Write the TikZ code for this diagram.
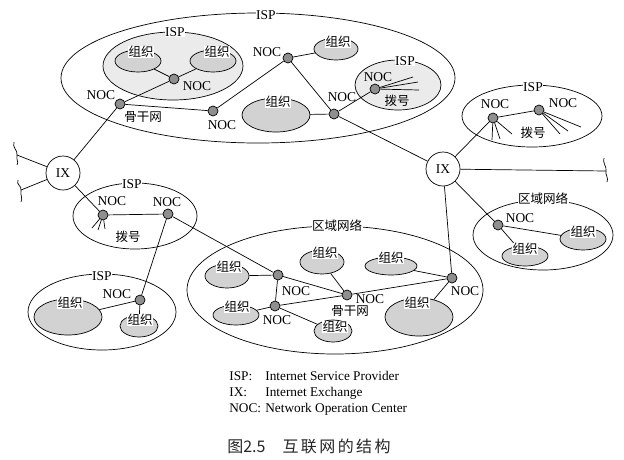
\documentclass[tikz,border=0pt]{standalone}
\usepackage{fontspec}
\setmainfont{Liberation Serif}
\newfontfamily\cjk{Noto Sans CJK SC}
\usetikzlibrary{shapes.geometric}
\definecolor{orgfill}{HTML}{D2D2D2}
\definecolor{ispfill}{HTML}{EBEBEB}
\definecolor{nocfill}{HTML}{8F8F8F}
\begin{document}
\begin{tikzpicture}[x=1pt,y=-1pt, line width=0.7pt,
 region/.style={ellipse, draw, inner sep=0},
 ispin/.style={region, fill=ispfill},
 org/.style={ellipse, draw, fill=orgfill, inner sep=0},
 noc/.style={circle, draw, fill=nocfill, minimum size=10pt, inner sep=0},
 ixnode/.style={circle, draw, fill=white, minimum size=34pt, inner sep=0, font=\fontsize{13.5}{13.5}\selectfont},
 lbl/.style={font=\fontsize{13.5}{13.5}\selectfont, inner sep=0.5pt},
 tagl/.style={lbl, fill=white},
 cn/.style={font=\cjk\fontsize{12.5}{12.5}\selectfont, inner sep=0.5pt},
 cntag/.style={cn, fill=white},
 squiggle/.style={line width=0.7pt}
]
\useasboundingbox (0,0) rectangle (624,459);

% ---- regions ----
\node[region, minimum width=394pt, minimum height=130pt] (bigisp) at (258,78) {};
\node[ispin, minimum width=140pt, minimum height=68pt] (inisp) at (173,66) {};
\node[ispin, minimum width=86pt, minimum height=50pt] (smisp) at (398,85) {};
\node[region, minimum width=140pt, minimum height=62pt] (rtisp) at (532,116) {};
\node[region, minimum width=140pt, minimum height=70pt] (rbreg) at (543,235) {};
\node[region, minimum width=124pt, minimum height=66pt] (lmisp) at (135,216) {};
\node[region, minimum width=148pt, minimum height=76pt] (lbisp) at (102,312) {};
\node[region, minimum width=296pt, minimum height=128pt] (creg) at (335,290) {};

% ---- organisations ----
\node[org, minimum width=46pt, minimum height=22pt] (ea1) at (138,61) {};
\node[org, minimum width=46pt, minimum height=22pt] (ea2) at (213,61) {};
\node[org, minimum width=44pt, minimum height=22pt] (ea3) at (336,49) {};
\node[org, minimum width=68pt, minimum height=34pt] (ea4) at (276,115) {};
\node[org, minimum width=46pt, minimum height=22pt] (eb1) at (583,239) {};
\node[org, minimum width=46pt, minimum height=20pt] (eb2) at (525,256) {};
\node[org, minimum width=68pt, minimum height=36pt] (ec1) at (68,317) {};
\node[org, minimum width=38pt, minimum height=22pt] (ec2) at (139,326) {};
\node[org, minimum width=44pt, minimum height=24pt] (ed1) at (227,276) {};
\node[org, minimum width=44pt, minimum height=24pt] (ed2) at (322,262) {};
\node[org, minimum width=52pt, minimum height=18pt] (ed3) at (391,266) {};
\node[org, minimum width=46pt, minimum height=20pt] (ed4) at (236,315) {};
\node[org, minimum width=38pt, minimum height=22pt] (ed5) at (333,331) {};
\node[org, minimum width=68pt, minimum height=38pt] (ed6) at (419,317) {};

% ---- NOCs ----
\node[noc] (nA) at (174,79) {};
\node[noc] (nB) at (120,104) {};
\node[noc] (nC) at (213,111) {};
\node[noc] (nD) at (288,58) {};
\node[noc] (nE) at (334,114) {};
\node[noc] (nF) at (375,89) {};
\node[noc] (nG) at (493,118) {};
\node[noc] (nH) at (539,110) {};
\node[noc] (nI) at (498,225) {};
\node[noc] (nJ) at (103,215) {};
\node[noc] (nK) at (168,214) {};
\node[noc] (nL) at (140,300) {};
\node[noc] (nM) at (278,275) {};
\node[noc] (nN) at (275,306) {};
\node[noc] (nO) at (347,295) {};
\node[noc] (nP) at (452,278) {};

% ---- IX ----
\node[ixnode] (ixl) at (63,173) {IX};
\node[ixnode] (ixr) at (443,169) {IX};

% ---- free ends ----
\coordinate (b1) at (17,155);
\coordinate (b2) at (21,190);
\coordinate (b3) at (606,171);
\coordinate (f1) at (413,77);
\coordinate (f2) at (418,82);
\coordinate (f3) at (419,90);
\coordinate (g1) at (492,140);
\coordinate (g2) at (500,139);
\coordinate (g3) at (512,134);
\coordinate (h1) at (560,134);
\coordinate (h2) at (568,131);
\coordinate (h3) at (581,127);
\coordinate (j1) at (92,228);
\coordinate (j2) at (98,230);
\coordinate (j3) at (105,229);

% ---- connectors ----
\draw (nB) -- (nA);
\draw (nA) -- (ea1);
\draw (nA) -- (ea2);
\draw (nB) -- (nC);
\draw (nC) -- (nD);
\draw (nD) -- (ea3);
\draw (nD) -- (nE);
\draw (ea4) -- (nE);
\draw (nE) -- (nF);
\draw (nE) -- (ixr);
\draw (nB) -- (ixl);
\draw (nF) -- (f1); \draw (nF) -- (f2); \draw (nF) -- (f3);
\draw (ixl) -- (b1);
\draw (ixl) -- (b2);
\draw (ixr) -- (b3);
\draw (ixl) -- (nJ);
\draw (nJ) -- (nK);
\draw (nJ) -- (j1); \draw (nJ) -- (j2); \draw (nJ) -- (j3);
\draw (nK) -- (nL);
\draw (nK) -- (nM);
\draw (nL) -- (ec1);
\draw (nL) -- (ec2);
\draw (ixr) -- (nG);
\draw (nG) -- (nH);
\draw (nG) -- (g1); \draw (nG) -- (g2); \draw (nG) -- (g3);
\draw (nH) -- (h1); \draw (nH) -- (h2); \draw (nH) -- (h3);
\draw (ixr) -- (nI);
\draw (nI) -- (eb1);
\draw (nI) -- (eb2);
\draw (ixr) -- (nP);
\draw (nM) -- (ed1);
\draw (nM) -- (nN);
\draw (nM) -- (nO);
\draw (nN) -- (nO);
\draw (nN) -- (ed4);
\draw (nN) -- (ed5);
\draw (nO) -- (ed2);
\draw (nO) -- (nP);
\draw (nP) -- (ed3);
\draw (nP) -- (ed6);

% ---- cut marks ----
\begin{scope}[shift={(b1)}]
\draw[squiggle] (-3,-13) .. controls (-5,-7) and (1,-5) .. (0,0) .. controls (-1,5) and (2,7) .. (0,10);
\end{scope}
\begin{scope}[shift={(b2)}]
\draw[squiggle] (-3,-10) .. controls (-5,-5) and (1,-4) .. (0,0) .. controls (-1,5) and (2,8) .. (0,12);
\end{scope}
\begin{scope}[shift={(b3)}]
\draw[squiggle] (-2,-13) .. controls (-4,-8) and (1,-5) .. (0,0) .. controls (-1,4) and (3,7) .. (1,11);
\end{scope}

% ---- region labels ----
\node[tagl] at (266,15) {ISP};
\node[tagl] at (175,32) {ISP};
\node[tagl] at (405,61) {ISP};
\node[tagl] at (533,87) {ISP};
\node[tagl] at (132,184) {ISP};
\node[tagl] at (102,276) {ISP};
\node[cntag] at (543,199) {区域网络};
\node[cntag] at (337,226) {区域网络};

% ---- org labels ----
\node[cntag] at (141,52) {组织};
\node[cntag] at (217,52) {组织};
\node[cntag] at (338,42) {组织};
\node[cntag] at (278,102) {组织};
\node[cntag] at (583,232) {组织};
\node[cntag] at (525,249) {组织};
\node[cntag] at (70,303) {组织};
\node[cntag] at (140,320) {组织};
\node[cntag] at (229,267) {组织};
\node[cntag] at (325,253) {组织};
\node[cntag] at (391,258) {组织};
\node[cntag] at (237,307) {组织};
\node[cntag] at (335,327) {组织};
\node[cntag] at (417,303) {组织};

% ---- NOC labels ----
\node[lbl] at (197,86) {NOC};
\node[lbl] at (101,95) {NOC};
\node[lbl] at (222,125) {NOC};
\node[lbl] at (267,52) {NOC};
\node[lbl] at (342,97) {NOC};
\node[lbl] at (378,77) {NOC};
\node[lbl] at (495,104) {NOC};
\node[lbl] at (563,103) {NOC};
\node[lbl] at (520,218) {NOC};
\node[lbl] at (112,201) {NOC};
\node[lbl] at (167,202) {NOC};
\node[lbl] at (117,294) {NOC};
\node[lbl] at (296,291) {NOC};
\node[lbl] at (277,320) {NOC};
\node[lbl] at (370,299) {NOC};
\node[lbl] at (465,291) {NOC};

% ---- other labels ----
\node[cn] at (143,117) {骨干网};
\node[cn] at (350,311) {骨干网};
\node[cn] at (397,101) {拨号};
\node[cn] at (533,133) {拨号};
\node[cn] at (128,237) {拨号};

% ---- legend ----
\node[anchor=north west, inner sep=0, font=\fontsize{13.3}{16}\selectfont] (legend) at (229,369)
 {\begin{tabular}{@{}p{36pt}@{}l@{}}ISP: & Internet Service Provider\\ IX: & Internet Exchange\\ NOC: & Network Operation Center\end{tabular}};

% ---- caption ----
\node[anchor=west, inner sep=0, font=\cjk\fontsize{16}{16}\selectfont, text=black!85] (caption) at (227,446)
 {图2.5\hspace{17pt}{\addfontfeature{LetterSpace=15}互联网的结构}};
\end{tikzpicture}
\end{document}
